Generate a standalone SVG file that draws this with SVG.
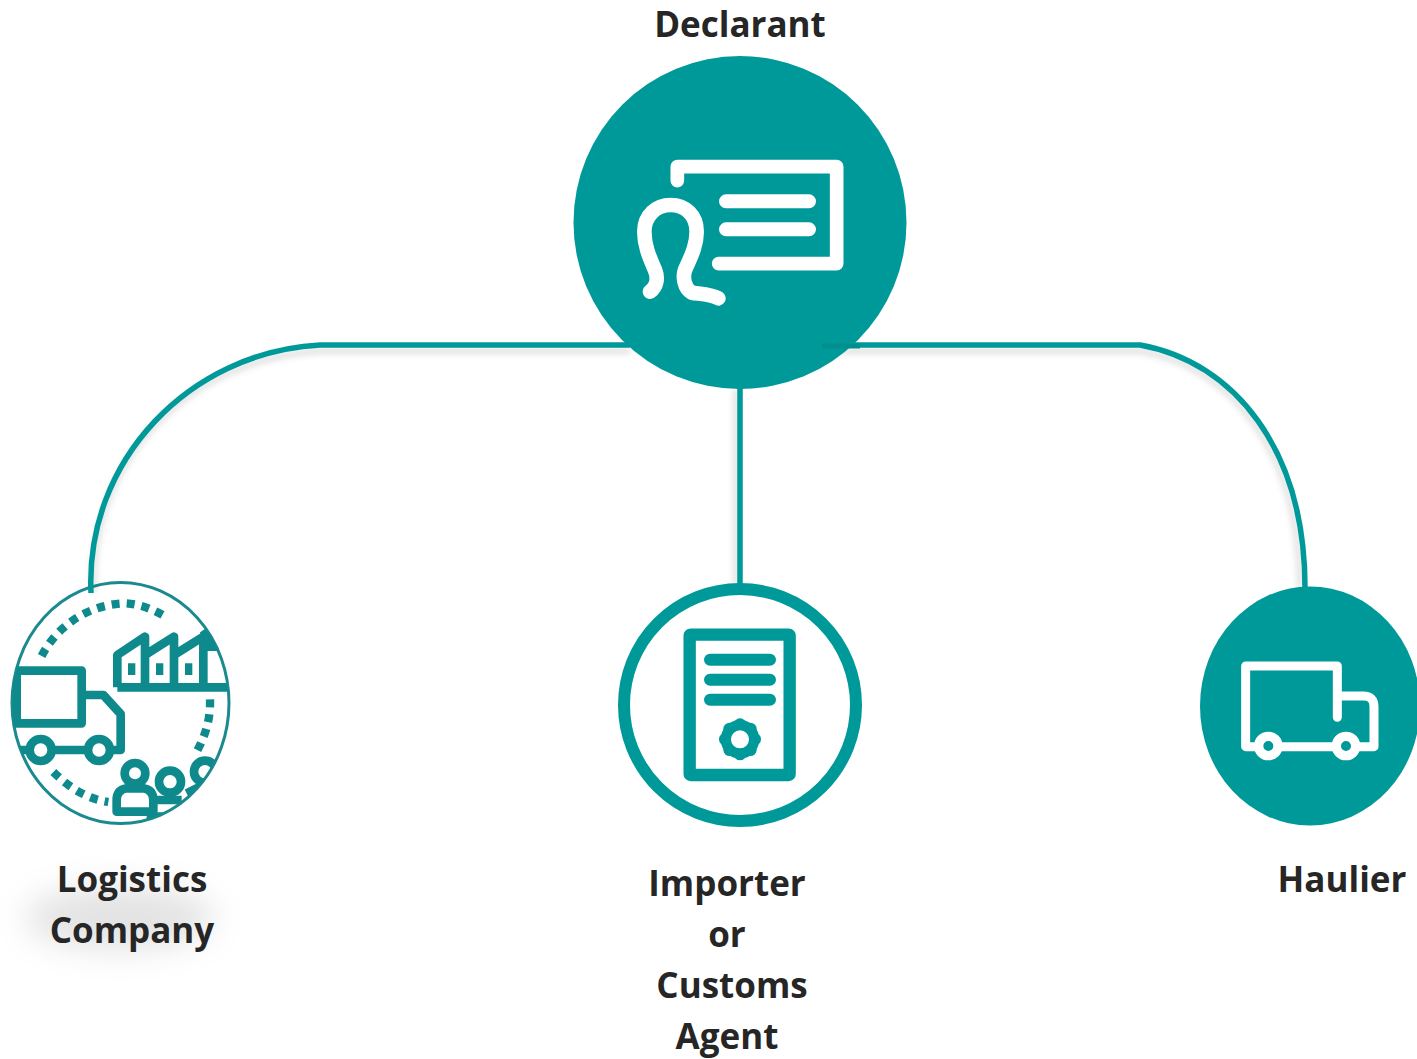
<svg xmlns="http://www.w3.org/2000/svg" width="1417" height="1059" viewBox="0 0 1417 1059">
<style>
.t{font-family:"Open Sans","Liberation Sans",sans-serif;font-weight:700;font-size:35px;fill:#262626;text-anchor:middle}
.c{fill:none;stroke:#009999;stroke-width:5.500}
.s{fill:none;stroke:#000;stroke-opacity:.14;stroke-width:5;filter:url(#b)}
.w{fill:none;stroke:#fff;stroke-linecap:round;stroke-linejoin:round}
.k{fill:none;stroke:#009999;stroke-linecap:round;stroke-linejoin:round}
.l{fill:none;stroke:#0f8a8c;stroke-width:26;stroke-linejoin:round}
.d{fill:none;stroke:#0f8a8c;stroke-width:25;stroke-dasharray:24 21}
</style>
<defs>
<filter id="b" x="-30%" y="-30%" width="160%" height="160%"><feGaussianBlur stdDeviation="3"/></filter>
<filter id="g" x="-50%" y="-50%" width="200%" height="200%"><feGaussianBlur stdDeviation="16"/></filter>
<clipPath id="lc"><ellipse cx="361" cy="398" rx="324" ry="361"/></clipPath>
</defs>
<ellipse cx="120" cy="918" rx="95" ry="32" fill="#000" fill-opacity=".11" filter="url(#g)"/>
<g id="logistics-company">
<ellipse cx="120.500" cy="703" rx="108.500" ry="120.500" fill="#fff" stroke="#1b8a8e" stroke-width="3"/>
<g transform="translate(0 570) scale(.33333)">
<g clip-path="url(#lc)">
<path class="d" d="M125 258C170 170 260 105 373 100C420 102 460 118 500 142"/>
<path class="d" d="M630 388C632 440 620 490 590 545"/>
<path class="d" d="M160 606C205 650 255 685 325 696"/>
<path class="l" d="M352 352V255L435 200V352M435 255L522 200V352M522 255L610 200V352M352 352H700M610 230H700M610 180L645 230"/>
<path fill="#0f8a8c" d="M384 280h22v35h-22zM468 280h22v35h-22zM555 280h22v35h-22z"/>
<path class="l" d="M50 302H245V460H50Z"/>
<path class="l" d="M250 375H310L362 432V540H330M160 540H262M50 540H90"/>
<circle class="l" cx="122" cy="540" r="33"/>
<circle class="l" cx="297" cy="540" r="33"/>
<circle class="l" cx="405" cy="610" r="31"/>
<circle class="l" cx="510" cy="635" r="33"/>
<circle class="l" cx="615" cy="605" r="33"/>
<path class="l" d="M350 725V690Q350 660 380 655H430Q460 660 460 690V725ZM470 690H545M560 670L620 640M440 740H520"/>
</g>
</g>
<text class="t" x="132" y="892">Logistics</text>
<text class="t" x="132" y="943">Company</text>
</g>
<g id="connectors">
<path class="s" d="M320 351H630M825 351H1140C1230 365 1300 450 1300 588M94 592C88 460 190 358 320 351M736 389V585"/>
<path class="c" d="M91 593C85 460 190 352 320 345H630"/>
<path class="c" d="M822 345H1140C1235 362 1305 450 1305 588"/>
<path class="c" d="M740 385V588"/>
</g>
<g id="declarant">
<circle cx="740" cy="222.500" r="166.500" fill="#009999"/>
<path d="M822 346H860" stroke="#008f8f" stroke-width="5" fill="none"/>
<g transform="translate(610 140) scale(.33333)">
<path class="w" stroke-width="41" d="M202 122V80H680V371H326"/>
<path class="w" stroke-width="42" d="M348 184H597M348 268H597"/>
<path class="w" stroke-width="44" d="M120 455C140 440 145 415 135 390C120 355 103 320 103 275C103 225 140 195 182 195C225 195 260 225 260 275C260 320 240 355 225 390C218 410 222 445 245 458C270 462 305 463 325 475"/>
</g>
<text class="t" x="740" y="37">Declarant</text>
</g>
<g id="importer">
<circle cx="740" cy="705" r="116" fill="#fff" stroke="#009999" stroke-width="12"/>
<g transform="translate(610 575) scale(.33333)">
<rect x="239" y="179" width="300" height="421" rx="3" fill="none" stroke="#009999" stroke-width="37" stroke-linejoin="round"/>
<path class="k" stroke-width="36" d="M300 254H480M300 314H480M300 374H480"/>
<g fill="#009999">
<circle cx="390" cy="493" r="58"/>
<circle cx="390" cy="449" r="19"/><circle cx="390" cy="537" r="19"/><circle cx="346" cy="493" r="19"/><circle cx="434" cy="493" r="19"/>
<circle cx="359" cy="462" r="19"/><circle cx="421" cy="462" r="19"/><circle cx="359" cy="524" r="19"/><circle cx="421" cy="524" r="19"/>
</g>
<circle cx="390" cy="493" r="27" fill="#fff"/>
</g>
<text class="t" x="727" y="896">Importer</text>
<text class="t" x="727" y="947">or</text>
<text class="t" x="732" y="998">Customs</text>
<text class="t" x="727" y="1049">Agent</text>
</g>
<g id="haulier">
<ellipse cx="1310" cy="706" rx="110" ry="119.500" fill="#009999"/>
<g transform="translate(1190 580) scale(.33333)">
<path class="w" stroke-width="27" d="M442 412V258H167V500H552V380Q552 348 520 348H442"/>
<circle cx="235" cy="498" r="29" fill="#009999" stroke="#fff" stroke-width="28"/>
<circle cx="468" cy="498" r="29" fill="#009999" stroke="#fff" stroke-width="28"/>
</g>
<text class="t" x="1342" y="892">Haulier</text>
</g>
</svg>
